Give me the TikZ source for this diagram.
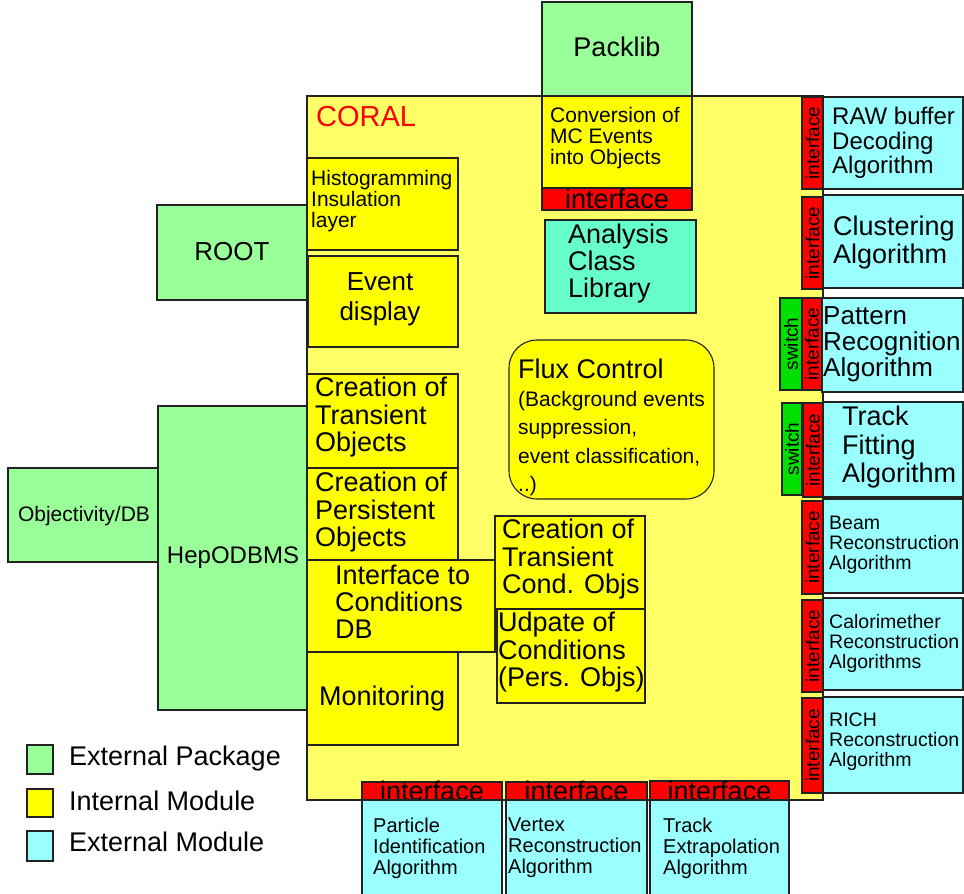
\documentclass[tikz,border=0pt]{standalone}
\usepackage{fontspec}
\setmainfont{Liberation Sans}
\usetikzlibrary{fit}
\definecolor{extpkg}{HTML}{99FF99}
\definecolor{intmod}{HTML}{FFFF00}
\definecolor{coralbg}{HTML}{FFFF66}
\definecolor{extmod}{HTML}{99FFFF}
\definecolor{anacol}{HTML}{66FFCC}
\definecolor{ifred}{HTML}{FF0000}
\definecolor{swgreen}{HTML}{00E000}
\definecolor{edge}{HTML}{222222}
\newcommand\myfs[2]{\fontsize{#1}{#2}\selectfont}
\newcommand\mybox[6]{\node[#6, fit={(#2,#3) (#4,#5)}] (#1) {};}
\begin{document}
\begin{tikzpicture}[x=1pt,y=-1pt,
  base/.style={draw=edge, line width=1.1pt, inner sep=0pt, outer sep=0pt},
  pkgbox/.style={base, fill=extpkg},
  intbox/.style={base, fill=intmod},
  extbox/.style={base, fill=extmod},
  anabox/.style={base, fill=anacol},
  redbox/.style={base, fill=ifred},
  swbox/.style={base, fill=swgreen},
  corbox/.style={base, fill=coralbg},
  lbl/.style={inner sep=0pt, anchor=north west, align=left, text=black},
  clbl/.style={inner sep=0pt, anchor=north, align=center, text=black},
  vif/.style={inner sep=0pt, rotate=90, font=\myfs{19}{19}, text=black},
  hif/.style={inner sep=0pt, font=\myfs{27}{27}, text=black}]
\useasboundingbox (0,0) rectangle (964,894);
\clip (0,0) rectangle (964,894);

% CORAL main area
\mybox{coral}{307}{96}{823}{800}{corbox}
\node[lbl, font=\myfs{29}{29}, text=ifred] (coraltxt) at (316,106) {CORAL};

% Packlib + conversion
\mybox{packlib}{542}{2}{692}{96}{pkgbox}
\node[clbl, font=\myfs{27}{27}] (packlibtxt) at (617,37) {Packlib};
\mybox{conv}{542}{96}{692}{188}{intbox}
\node[lbl, font=\myfs{21}{21}] (convtxt) at (550,107) {Conversion of\\MC Events\\into Objects};
\mybox{convif}{542}{188}{692}{210}{redbox}
\node[hif] (convift) at (617,199) {interface};

% Analysis class library
\mybox{ana}{545}{220}{696}{313}{anabox}
\node[lbl, font=\myfs{27}{27}] (anatxt) at (568,224) {Analysis\\Class\\Library};

% Left column internal modules
\mybox{histo}{307}{158}{458}{250}{intbox}
\node[lbl, font=\myfs{21}{21}] (histotxt) at (311,170) {Histogramming\\Insulation\\layer};
\mybox{evd}{308}{256}{458}{347}{intbox}
\node[clbl, font=\myfs{26}{30}] (evdtxt) at (380,272) {Event\\display};
\mybox{ctr}{307}{374}{458}{468}{intbox}
\node[lbl, font=\myfs{27}{27.5}] (ctrtxt) at (315,377) {Creation of\\Transient\\Objects};
\mybox{cpe}{307}{468}{458}{560}{intbox}
\node[lbl, font=\myfs{27}{27.5}] (cpetxt) at (315,472) {Creation of\\Persistent\\Objects};
\mybox{icdb}{307}{560}{495}{652}{intbox}
\node[lbl, font=\myfs{27}{27}] (icdbtxt) at (335,565) {Interface to\\Conditions\\DB};
\mybox{mon}{307}{652}{458}{745}{intbox}
\node[lbl, font=\myfs{27}{27}] (montxt) at (319,686) {Monitoring};

% Conditions objects
\mybox{ctc}{495}{516}{645}{609}{intbox}
\node[lbl, font=\myfs{27}{27.5}] (ctctxt) at (502,519) {Creation of\\Transient\\Cond. Objs};
\mybox{upd}{497}{609}{645}{703}{intbox}
\node[lbl, font=\myfs{27}{27.5}] (updtxt) at (498,612) {Udpate of\\Conditions\\(Pers. Objs)};

% Flux control
\node[base, fill=intmod, rounded corners=28pt, fit={(509,340) (714,499)}] (flux) {};
\node[lbl, font=\myfs{27}{27}] (fluxtxt) at (518,359) {Flux Control};
\node[lbl, font=\myfs{21}{28.3}] (fluxsub) at (518,391) {(Background events\\suppression,\\event classification,\\..)};

% External packages on the left
\mybox{root}{157}{205}{307}{300}{pkgbox}
\node[clbl, font=\myfs{26}{26}] (roottxt) at (232,242) {ROOT};
\mybox{hep}{158}{406}{307}{710}{pkgbox}
\node[clbl, font=\myfs{24}{24}] (heptxt) at (233,547) {HepODBMS};
\mybox{objy}{8}{468}{158}{562}{pkgbox}
\node[clbl, font=\myfs{21}{21}] (objytxt) at (84,506) {Objectivity/DB};

% Right side external modules
\mybox{rawif}{802}{97}{823}{189}{redbox}
\node[vif] (rawift) at (rawif.center) {interface};
\mybox{raw}{823}{97}{963}{189}{extbox}
\node[lbl, font=\myfs{24}{24.5}] (rawtxt) at (832,107) {RAW buffer\\Decoding\\Algorithm};

\mybox{cluif}{802}{197}{823}{289}{redbox}
\node[vif] (cluift) at (cluif.center) {interface};
\mybox{clu}{823}{195}{963}{288}{extbox}
\node[lbl, font=\myfs{27}{28}] (clutxt) at (833,216) {Clustering\\Algorithm};

\mybox{patsw}{780}{298}{802}{390}{swbox}
\node[vif] (patswt) at (patsw.center) {switch};
\mybox{patif}{802}{298}{822}{390}{redbox}
\node[vif] (patift) at (patif.center) {interface};
\mybox{pat}{822}{298}{963}{392}{extbox}
\node[lbl, font=\myfs{26}{26}] (pattxt) at (823,306) {Pattern\\Recognition\\Algorithm};

\mybox{trksw}{782}{403}{802}{495}{swbox}
\node[vif] (trkswt) at (trksw.center) {switch};
\mybox{trkif}{803}{403}{823}{497}{redbox}
\node[vif] (trkift) at (trkif.center) {interface};
\mybox{trk}{823}{402}{963}{497}{extbox}
\node[lbl, font=\myfs{27}{28.5}] (trktxt) at (842,406) {Track\\Fitting\\Algorithm};

\mybox{beamif}{802}{501}{823}{594}{redbox}
\node[vif] (beamift) at (beamif.center) {interface};
\mybox{beam}{823}{499}{963}{593}{extbox}
\node[lbl, font=\myfs{19.5}{20}] (beamtxt) at (829,516) {Beam\\Reconstruction\\Algorithm};

\mybox{calif}{802}{600}{823}{692}{redbox}
\node[vif] (calift) at (calif.center) {interface};
\mybox{cal}{823}{598}{963}{690}{extbox}
\node[lbl, font=\myfs{19.5}{20}] (caltxt) at (829,614) {Calorimether\\Reconstruction\\Algorithms};

\mybox{richif}{802}{698}{823}{793}{redbox}
\node[vif] (richift) at (richif.center) {interface};
\mybox{rich}{823}{697}{963}{793}{extbox}
\node[lbl, font=\myfs{19.5}{20}] (richtxt) at (829,713) {RICH\\Reconstruction\\Algorithm};

% Bottom external modules
\mybox{pidif}{362}{782}{502}{800}{redbox}
\node[hif] (pidift) at (pidif.center) {interface};
\mybox{pid}{362}{800}{502}{900}{extbox}
\node[lbl, font=\myfs{20}{21}] (pidtxt) at (373,818) {Particle\\Identification\\Algorithm};

\mybox{vtxif}{506}{782}{647}{800}{redbox}
\node[hif] (vtxift) at (vtxif.center) {interface};
\mybox{vtx}{506}{800}{647}{900}{extbox}
\node[lbl, font=\myfs{20}{21}] (vtxtxt) at (508,818) {Vertex\\Reconstruction\\Algorithm};

\mybox{extif}{650}{781}{789}{800}{redbox}
\node[hif] (extift) at (extif.center) {interface};
\mybox{ext}{650}{800}{789}{900}{extbox}
\node[lbl, font=\myfs{20}{21}] (exttxt) at (663,818) {Track\\Extrapolation\\Algorithm};

% Legend
\mybox{lg1}{27}{745}{53}{774}{pkgbox}
\node[lbl, font=\myfs{27}{27}] (lg1t) at (69,746) {External Package};
\mybox{lg2}{27}{789}{53}{817}{intbox}
\node[lbl, font=\myfs{27}{27}] (lg2t) at (69,791) {Internal Module};
\mybox{lg3}{27}{831}{53}{861}{extbox}
\node[lbl, font=\myfs{27}{27}] (lg3t) at (69,832) {External Module};
\end{tikzpicture}
\end{document}
